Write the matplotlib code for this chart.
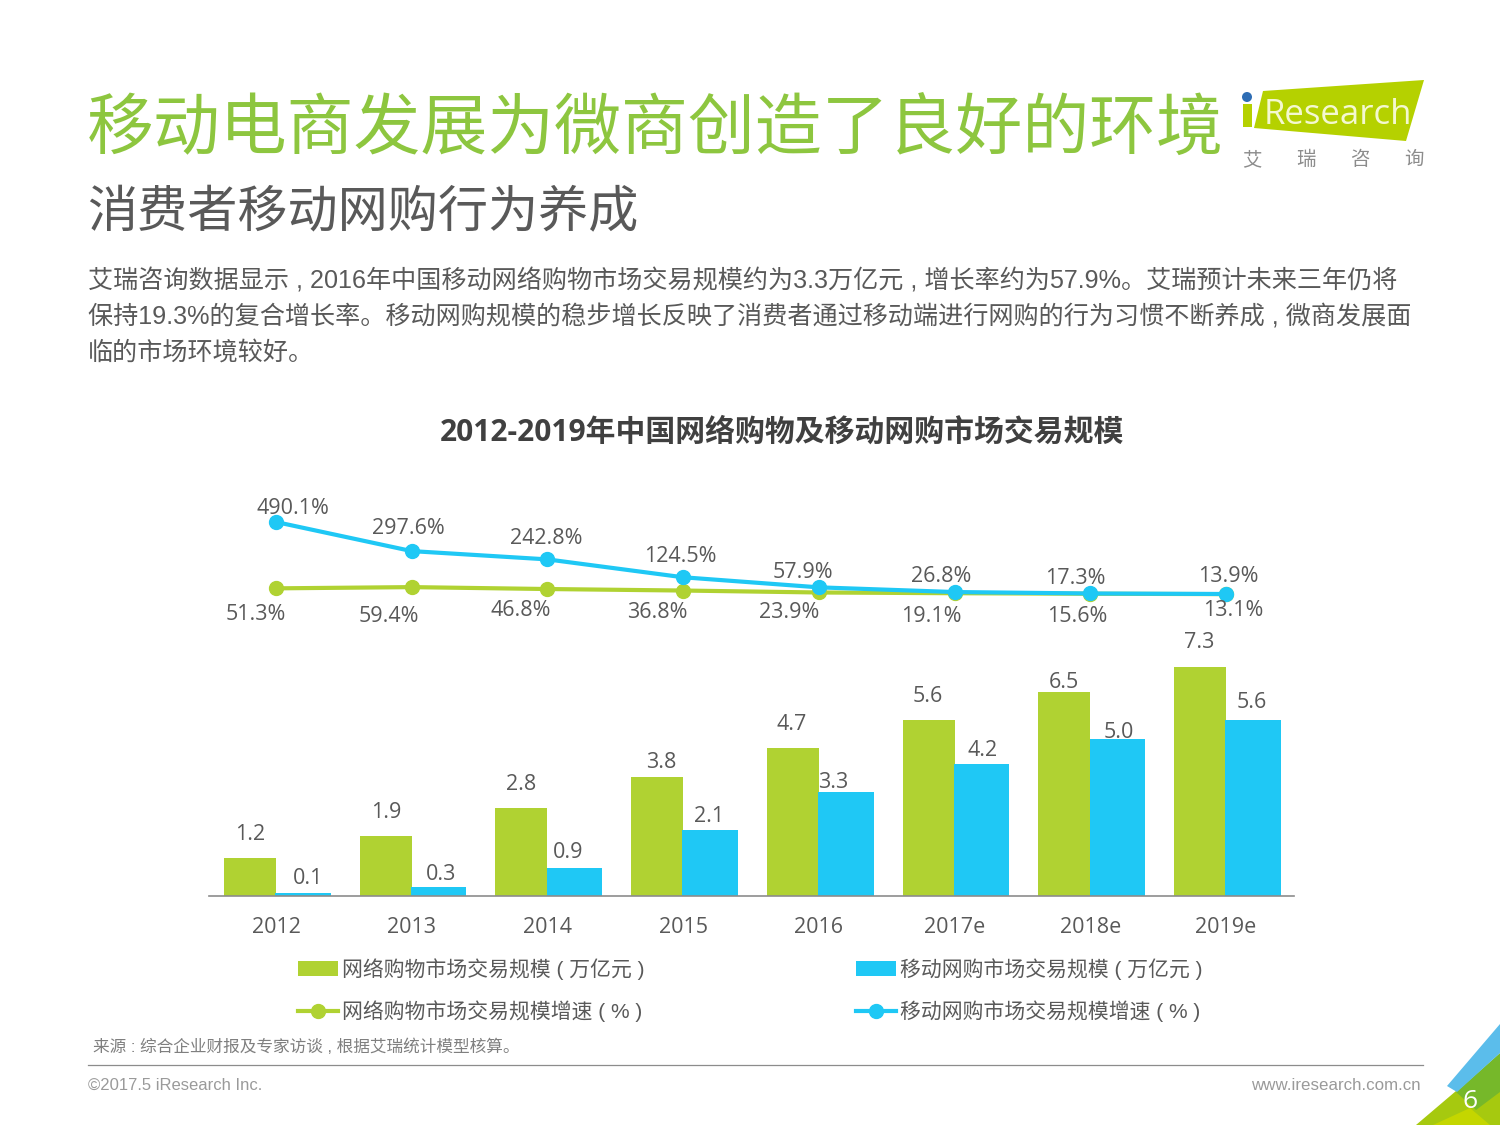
import matplotlib
matplotlib.use("Agg")
import matplotlib.pyplot as plt
from matplotlib.patches import Polygon, Circle
import numpy as np

FONT = ['Open Sans', 'Noto Sans CJK SC', 'DejaVu Sans']
CJK = ['Liberation Sans', 'Noto Sans CJK SC', 'DejaVu Sans']
plt.rcParams['font.family'] = FONT

# ---------- data ----------
years = ['2012', '2013', '2014', '2015', '2016', '2017e', '2018e', '2019e']
online_scale = [1.2, 1.9, 2.8, 3.8, 4.7, 5.6, 6.5, 7.3]
mobile_scale = [0.1, 0.3, 0.9, 2.1, 3.3, 4.2, 5.0, 5.6]
online_growth = [51.3, 59.4, 46.8, 36.8, 23.9, 19.1, 15.6, 13.1]
mobile_growth = [490.1, 297.6, 242.8, 124.5, 57.9, 26.8, 17.3, 13.9]
legend_names = ['网络购物市场交易规模 ( 万亿元 )', '移动网购市场交易规模 ( 万亿元 )',
                '网络购物市场交易规模增速 ( % )', '移动网购市场交易规模增速 ( % )']
title = '移动电商发展为微商创造了良好的环境'
subtitle = '消费者移动网购行为养成'
body = ['艾瑞咨询数据显示 , 2016年中国移动网络购物市场交易规模约为3.3万亿元 , 增长率约为57.9%。艾瑞预计未来三年仍将',
        '保持19.3%的复合增长率。移动网购规模的稳步增长反映了消费者通过移动端进行网购的行为习惯不断养成 , 微商发展面',
        '临的市场环境较好。']
chart_title = '2012-2019年中国网络购物及移动网购市场交易规模'
source = '来源 : 综合企业财报及专家访谈 , 根据艾瑞统计模型核算。'

GREEN, BLUE, GREY = '#B0D232', '#1FC8F5', '#595959'
W, H = 1500, 1125
fig = plt.figure(figsize=(15, 11.25), dpi=100, facecolor='white')

pg = fig.add_axes([0, 0, 1, 1], zorder=0)
pg.set_xlim(0, W); pg.set_ylim(H, 0); pg.axis('off')

def rect(x0, y0, x1, y1):
    return [x0 / W, 1 - y1 / H, (x1 - x0) / W, (y1 - y0) / H]

# ---------- chart ----------
x0, x1 = 209, 1294
xs = np.arange(len(years))
unit = (1226 - 276) / 7
xlim = ((x0 - 276) / unit, (x1 - 276) / unit)

ax = fig.add_axes(rect(x0, 640, x1, 896), zorder=2)
ax.patch.set_alpha(0)
ax.bar(xs - 26 / unit, online_scale, width=52 / unit, color=GREEN, zorder=2, label=legend_names[0])
ax.bar(xs + 27 / unit, mobile_scale, width=55.5 / unit, color=BLUE, zorder=3, label=legend_names[1])
ax.set_xlim(*xlim)
ax.set_ylim(0, 256 / 31.4)
for s in ['top', 'left', 'right']:
    ax.spines[s].set_visible(False)
ax.spines['bottom'].set_color('#8C8C8C')
ax.spines['bottom'].set_linewidth(1.2)
ax.spines['bottom'].set_zorder(5)
ax.set_yticks([])
ax.set_xticks(xs, years, fontsize=15.5, color=GREY)
ax.tick_params(axis='x', length=0, pad=15)

line_ax = fig.add_axes(rect(x0, 500, x1, 620), zorder=3)
line_ax.patch.set_alpha(0)
line_ax.axis('off')
line_ax.set_xlim(*xlim)
k = 72 / (490.1 - 13.9)
line_ax.set_ylim(13.9 - 26 / k, 13.9 + 94 / k)
l1, = line_ax.plot(xs, online_growth, color=GREEN, lw=3, marker='o', ms=10, label=legend_names[2], zorder=2)
l2, = line_ax.plot(xs, mobile_growth, color=BLUE, lw=3, marker='o', ms=10, label=legend_names[3], zorder=3)

# value labels (pixel centres)
kw = dict(fontsize=15.5, color=GREY, ha='center', va='center', zorder=6)
pos_on = [(250, 835), (386, 813), (521, 784), (661, 763), (792, 725), (928, 696), (1064, 682), (1199, 643)]
pos_mo = [(308, 879), (441, 874), (568, 852), (709, 817), (833, 783), (983, 751), (1119, 733), (1252, 702)]
pos_ong = [(256, 615), (389, 616), (521, 611), (657, 613), (789, 613), (931, 616), (1077, 616), (1233, 611)]
pos_mog = [(293, 508), (408, 529), (546, 539), (680, 557), (803, 573), (941, 577), (1075, 579), (1228, 577)]
lab = fig.add_axes([0, 0, 1, 1], zorder=4)
lab.set_xlim(0, W); lab.set_ylim(H, 0); lab.axis('off')
for vals, pos, f in [(online_scale, pos_on, '{:.1f}'), (mobile_scale, pos_mo, '{:.1f}'),
                     (online_growth, pos_ong, '{:.1f}%'), (mobile_growth, pos_mog, '{:.1f}%')]:
    for v, (px, py) in zip(vals, pos):
        lab.text(px, py, f.format(v), **kw)

h0, h1 = ax.containers[0], ax.containers[1]
lab.legend([h0, l1, h1, l2], [legend_names[0], legend_names[2], legend_names[1], legend_names[3]],
           ncol=2, loc='upper left', bbox_to_anchor=(298 / W, 1 - 958 / H), bbox_transform=fig.transFigure,
           frameon=False, prop={'family': CJK, 'size': 15}, labelcolor=GREY,
           handlelength=1.92, handletextpad=0.2, columnspacing=10.15, labelspacing=1.0,
           borderpad=0, borderaxespad=0)

# ---------- text ----------
pg.text(87, 131.5, title, fontsize=48.2, color='#8DC63F', family=CJK, va='center', ha='left')
pg.text(87, 214, subtitle, fontsize=36.1, color=GREY, family=CJK, va='center', ha='left')
for y, t in zip([281, 317, 353], body):
    pg.text(88, y, t, fontsize=18.08, color=GREY, family=CJK, va='center', ha='left')
pg.text(782, 433, chart_title, fontsize=21.5, color='#404040', weight='bold', va='center', ha='center')
pg.text(93, 1047, source, fontsize=12, color='#7F7F7F', family=CJK, va='center', ha='left')
pg.plot([88, 1423], [1064.5, 1064.5], color='#8C8C8C', lw=0.9)
pg.text(88, 1085, '©2017.5 iResearch Inc.', fontsize=12, color='#9A9A9A', family='Liberation Sans', va='center', ha='left')
pg.text(1421, 1085, 'www.iresearch.com.cn', fontsize=12.2, color='#9A9A9A', family='Liberation Sans', va='center', ha='right')

# logo
pg.add_patch(Polygon([(1263, 91), (1424, 80), (1406, 141), (1254, 128)], color='#B5D100', lw=0))
pg.add_patch(Polygon([(1243, 104), (1252, 104), (1252, 127), (1243, 127)], color='#B5D100', lw=0))
pg.add_patch(Circle((1247, 97), 5, color='#2E6DB4', lw=0))
pg.text(1264, 115, 'Research', fontsize=25, color='#F4F8D0', family='Open Sans', va='center', ha='left')
for xc, ch in zip([1252, 1306, 1360, 1414], '艾瑞咨询'):
    pg.text(xc, 160, ch, fontsize=14, color='#8C8C8C', family=CJK, va='center', ha='center')

# corner
pg.add_patch(Polygon([(1456, 1091), (1416, 1125), (1500, 1125), (1500, 1090)], color='#A6C90F', lw=0))
pg.add_patch(Polygon([(1500, 1053), (1456, 1092), (1476, 1110), (1500, 1092)], color='#76B82A', lw=0))
pg.add_patch(Polygon([(1470, 1108), (1433, 1125), (1490, 1125)], color='#C4D600', lw=0))
pg.add_patch(Polygon([(1500, 1024), (1447, 1086), (1457, 1092), (1500, 1053)], color='#5BBDEB', lw=0))
pg.text(1470, 1101, '6', fontsize=19, color='white', family='Open Sans', va='center', ha='center')

fig.savefig('out.png', dpi=100, facecolor='white')
